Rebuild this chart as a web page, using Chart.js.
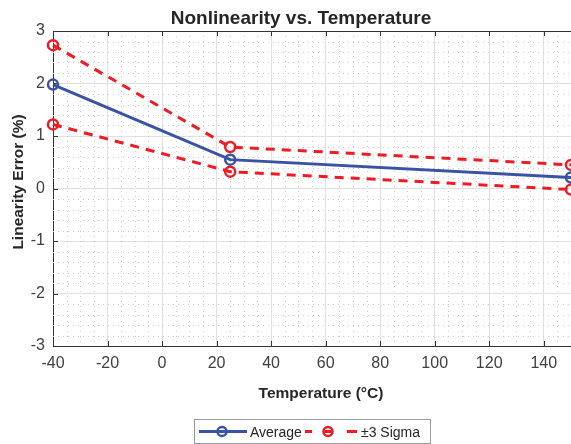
<!DOCTYPE html>
<html>
<head>
<meta charset="utf-8">
<script src="https://cdn.jsdelivr.net/npm/chart.js@4"></script>
<style>
html, body { margin: 0; padding: 0; background: #fff; }
#caja { width: 571px; height: 444px; }
</style>
</head>
<body>
<div id="caja"><canvas id="miGrafica"></canvas></div>
<script>
// datos
const temperaturas = [-40, 25, 150]
const promedio = [1.98, 0.55, 0.21]
const sigmaMas = [2.73, 0.79, 0.45]
const sigmaMenos = [1.22, 0.32, -0.02]
const ticksX = [-40, -20, 0, 20, 40, 60, 80, 100, 120, 140]
const ticksY = [-3, -2, -1, 0, 1, 2, 3]

const azul = "rgb(57,82,163)"
const rojo = "rgb(237,28,36)"
const ejes = "#333333"
const fuente = "'Liberation Sans', Arial, sans-serif"

function puntos(valores) {
    return temperaturas.map((t, i) => ({ x: t, y: valores[i] }))
}

// rejilla menor punteada, marcas hacia adentro y linea superior
const rejilla = {
    id: "rejilla",
    beforeDatasetsDraw(chart) {
        const ctx = chart.ctx
        const a = chart.chartArea
        const sx = chart.scales.x
        const sy = chart.scales.y
        ctx.save()
        ctx.strokeStyle = "#cdcdcd"
        ctx.lineWidth = 1
        ctx.setLineDash([1, 4])
        ctx.beginPath()
        for (let v = -35; v < 150; v += 5) {
            if (v % 20 === 0) continue
            const px = Math.round(sx.getPixelForValue(v)) + 0.5
            ctx.moveTo(px, a.top)
            ctx.lineTo(px, a.bottom)
        }
        for (let k = -14; k < 15; k++) {
            if (k % 5 === 0) continue
            const py = Math.round(sy.getPixelForValue(k / 5)) + 0.5
            ctx.moveTo(a.left, py)
            ctx.lineTo(a.right, py)
        }
        ctx.stroke()
        ctx.setLineDash([])
        ctx.strokeStyle = ejes
        ctx.beginPath()
        ctx.moveTo(a.left, a.top + 0.5)
        ctx.lineTo(a.right, a.top + 0.5)
        ticksX.forEach(v => {
            const px = Math.round(sx.getPixelForValue(v)) + 0.5
            ctx.moveTo(px, a.bottom)
            ctx.lineTo(px, a.bottom - 5)
            ctx.moveTo(px, a.top)
            ctx.lineTo(px, a.top + 5)
        })
        ticksY.forEach(v => {
            const py = Math.round(sy.getPixelForValue(v)) + 0.5
            ctx.moveTo(a.left, py)
            ctx.lineTo(a.left + 5, py)
        })
        ctx.stroke()
        ctx.restore()
    },
    afterDraw(chart) {
        const ctx = chart.ctx
        ctx.save()
        ctx.fillStyle = "#262626"
        ctx.textAlign = "center"
        ctx.textBaseline = "alphabetic"
        ctx.font = "bold 19px " + fuente
        ctx.fillText("Nonlinearity vs. Temperature", 301, 24)
        ctx.font = "bold 15.5px " + fuente
        ctx.fillText("Temperature (\u00B0C)", 321, 398)
        ctx.save()
        ctx.translate(23, 182)
        ctx.rotate(-Math.PI / 2)
        ctx.fillText("Linearity Error (%)", 0, 0)
        ctx.restore()

        // leyenda
        ctx.strokeStyle = "#9a9a9a"
        ctx.lineWidth = 1
        ctx.strokeRect(194.5, 419.5, 236, 24)
        const yl = 431.5
        ctx.lineWidth = 3
        ctx.strokeStyle = azul
        ctx.beginPath()
        ctx.moveTo(199, yl)
        ctx.lineTo(247, yl)
        ctx.stroke()
        ctx.lineWidth = 2.5
        ctx.beginPath()
        ctx.arc(222, yl, 4.5, 0, Math.PI * 2)
        ctx.stroke()
        ctx.strokeStyle = rojo
        ctx.lineWidth = 3
        ctx.beginPath()
        ctx.moveTo(305, yl)
        ctx.lineTo(312, yl)
        ctx.moveTo(324, yl)
        ctx.lineTo(332, yl)
        ctx.moveTo(347, yl)
        ctx.lineTo(357, yl)
        ctx.stroke()
        ctx.lineWidth = 2.5
        ctx.beginPath()
        ctx.arc(328, yl, 4.5, 0, Math.PI * 2)
        ctx.stroke()
        ctx.fillStyle = "#262626"
        ctx.font = "14px " + fuente
        ctx.textAlign = "left"
        ctx.textBaseline = "middle"
        ctx.fillText("Average", 250, 433)
        ctx.fillText("\u00B13 Sigma", 361, 433)
        ctx.restore()
    }
}

let miCanvas = document.getElementById("miGrafica").getContext("2d")

let chart = new Chart(miCanvas, {
    type: "line",
    data: {
        datasets: [
            {
                label: "Average",
                data: puntos(promedio),
                borderColor: azul,
                backgroundColor: "rgba(0,0,0,0)",
                borderWidth: 3,
                pointRadius: 5,
                pointBorderWidth: 2.5,
                pointBackgroundColor: "rgba(0,0,0,0)",
                clip: false
            },
            {
                label: "\u00B13 Sigma",
                data: puntos(sigmaMas),
                borderColor: rojo,
                borderDash: [9, 7],
                borderWidth: 3,
                pointRadius: 5,
                pointBorderWidth: 2.5,
                pointBackgroundColor: "rgba(0,0,0,0)",
                clip: false
            },
            {
                label: "-3 Sigma",
                data: puntos(sigmaMenos),
                borderColor: rojo,
                borderDash: [9, 7],
                borderWidth: 3,
                pointRadius: 5,
                pointBorderWidth: 2.5,
                pointBackgroundColor: "rgba(0,0,0,0)",
                clip: false
            }
        ]
    },
    options: {
        responsive: true,
        maintainAspectRatio: false,
        animation: false,
        layout: { autoPadding: false, padding: { top: 31, left: 0, right: 0, bottom: 0 } },
        plugins: {
            legend: { display: false },
            title: { display: false },
            tooltip: { enabled: false }
        },
        scales: {
            x: {
                type: "linear",
                min: -40,
                max: 150,
                afterBuildTicks: s => { s.ticks = ticksX.map(v => ({ value: v })) },
                afterFit: s => { s.height = 98 },
                grid: { color: "#e0e0e0", drawTicks: false },
                border: { color: ejes, width: 1 },
                ticks: {
                    padding: 8,
                    color: "#404040",
                    font: { family: fuente, size: 16 },
                    maxRotation: 0
                }
            },
            y: {
                type: "linear",
                min: -3,
                max: 3,
                afterBuildTicks: s => { s.ticks = ticksY.map(v => ({ value: v })) },
                afterFit: s => { s.width = 53 },
                grid: { color: "#e0e0e0", drawTicks: false },
                border: { color: ejes, width: 1 },
                ticks: {
                    padding: 8,
                    color: "#404040",
                    font: { family: fuente, size: 16 }
                }
            }
        }
    },
    plugins: [rejilla]
})
</script>
</body>
</html>
